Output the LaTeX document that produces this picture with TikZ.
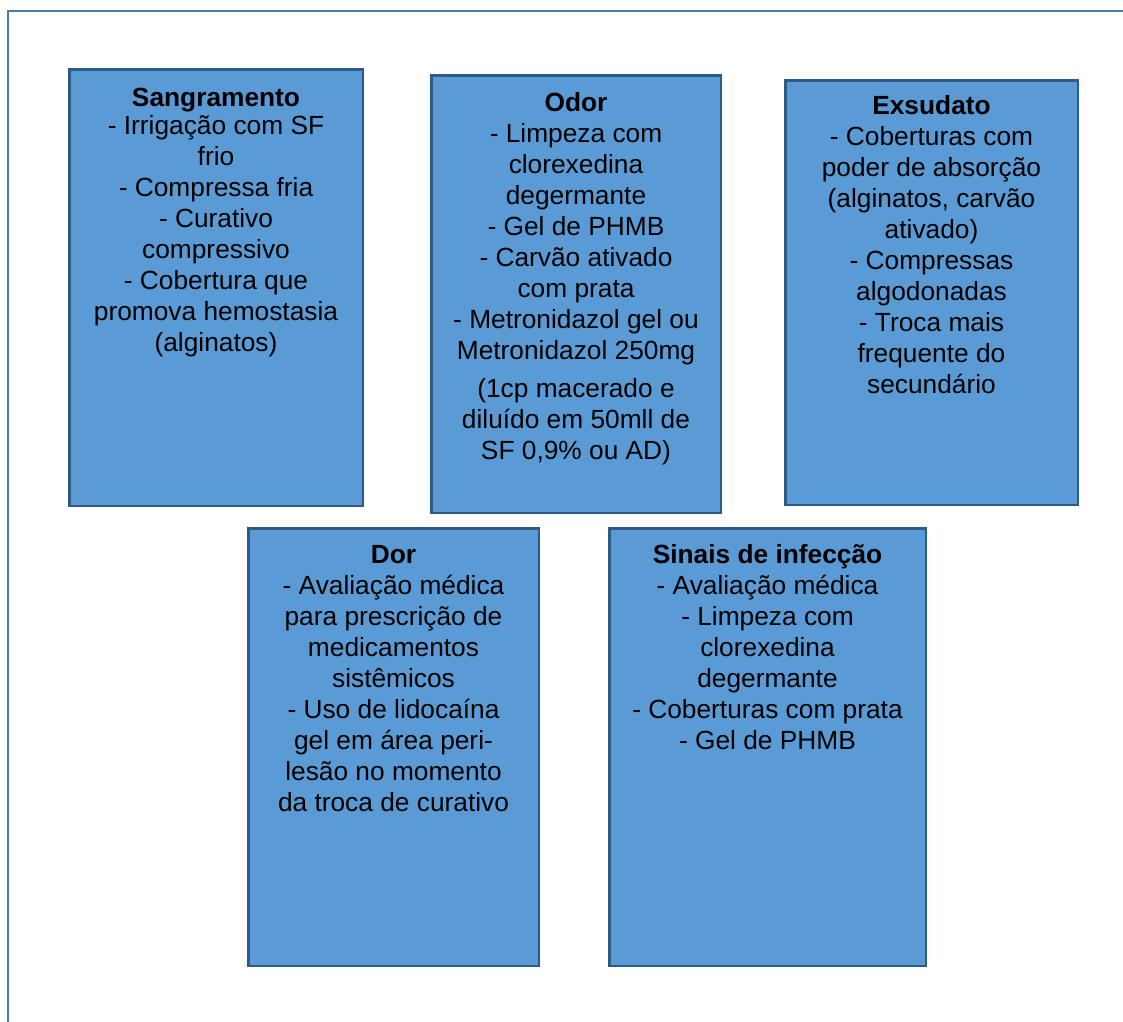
\documentclass[tikz,border=0pt]{standalone}
\usepackage{fontspec}
\setmainfont{Liberation Sans}
\usetikzlibrary{positioning}
\definecolor{cardfill}{HTML}{5B9BD5}
\definecolor{carddraw}{HTML}{2E5A88}
\definecolor{framedraw}{HTML}{4F7BA8}
\begin{document}
\begin{tikzpicture}
[x=1pt, y=-1pt,
 card/.style={draw=carddraw, line width=2.5pt, fill=cardfill, inner sep=0pt},
 cardtext/.style={align=center, inner sep=0pt, font={\fontsize{26.3}{31}\selectfont}}]
\useasboundingbox (0,0) rectangle (1123,1021);
\draw[framedraw, line width=2.5pt] (8,1030) -- (8,11) -- (1130,11);

% top row
\node[card, minimum width=293.5, minimum height=436.5] (sang) at (216,287.5) {};
\node[cardtext, below=20pt of sang.north] (sangtxt)
  {\textbf{Sangramento}\\[-3pt]- Irrigação com SF\\frio\\- Compressa fria\\- Curativo\\compressivo\\- Cobertura que\\promova hemostasia\\(alginatos)};

\node[card, minimum width=289.5, minimum height=437.5] (odor) at (576,294) {};
\node[cardtext, below=18pt of odor.north] (odortxt)
  {\textbf{Odor}\\- Limpeza com\\clorexedina\\degermante\\- Gel de PHMB\\- Carvão ativado\\com prata\\- Metronidazol gel ou\\Metronidazol 250mg\\[7pt](1cp macerado e\\diluído em 50mll de\\SF 0,9\% ou AD)};

\node[card, minimum width=292.5, minimum height=424.5] (exsu) at (931.5,292.5) {};
\node[cardtext, below=16pt of exsu.north] (exsutxt)
  {\textbf{Exsudato}\\- Coberturas com\\poder de absorção\\(alginatos, carvão\\ativado)\\- Compressas\\algodonadas\\- Troca mais\\frequente do\\secundário};

% bottom row
\node[card, minimum width=290.5, minimum height=437.5] (dor) at (393.5,747) {};
\node[cardtext, below=18pt of dor.north] (dortxt)
  {\textbf{Dor}\\- Avaliação médica\\para prescrição de\\medicamentos\\sistêmicos\\- Uso de lidocaína\\gel em área peri-\\lesão no momento\\da troca de curativo};

\node[card, minimum width=316.5, minimum height=437.5] (infec) at (767.5,747) {};
\node[cardtext, below=17pt of infec.north] (infectxt)
  {\textbf{Sinais de infecção}\\- Avaliação médica\\- Limpeza com\\clorexedina\\degermante\\- Coberturas com prata\\- Gel de PHMB};
\end{tikzpicture}
\end{document}
